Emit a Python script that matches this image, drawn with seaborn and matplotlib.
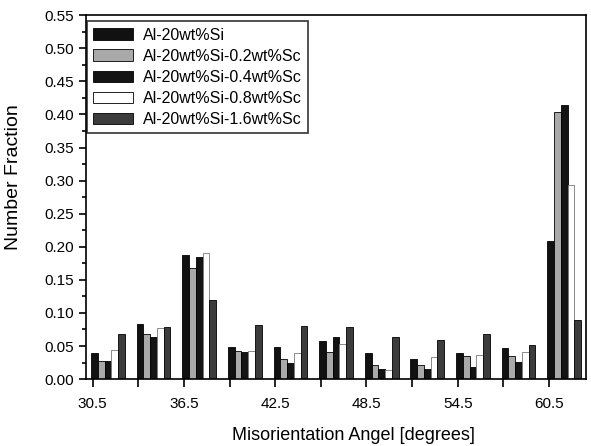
import pandas as pd
import matplotlib
matplotlib.use("Agg")
import matplotlib.pyplot as plt
import seaborn as sns
from matplotlib.ticker import MultipleLocator, FormatStrFormatter

sns.set_style("ticks", {"axes.edgecolor": "black", "xtick.color": "black",
                        "ytick.color": "black", "text.color": "black",
                        "axes.labelcolor": "black"})
plt.rcParams['font.family'] = ['Liberation Sans', 'DejaVu Sans']

# misorientation bins (degrees)
angles = [30.5, 33.5, 36.5, 39.5, 42.5, 45.5, 48.5, 51.5, 54.5, 57.5, 60.5]
alloys = ['Al-20wt%Si', 'Al-20wt%Si-0.2wt%Sc', 'Al-20wt%Si-0.4wt%Sc',
          'Al-20wt%Si-0.8wt%Sc', 'Al-20wt%Si-1.6wt%Sc']

si_00 = [0.040, 0.084, 0.188, 0.048, 0.048, 0.058, 0.039, 0.031, 0.040, 0.047, 0.208]
sc_02 = [0.028, 0.068, 0.168, 0.042, 0.031, 0.041, 0.021, 0.021, 0.035, 0.035, 0.403]
sc_04 = [0.028, 0.063, 0.184, 0.041, 0.024, 0.064, 0.015, 0.016, 0.019, 0.026, 0.414]
sc_08 = [0.044, 0.077, 0.190, 0.042, 0.040, 0.053, 0.014, 0.033, 0.036, 0.041, 0.294]
sc_16 = [0.068, 0.079, 0.120, 0.082, 0.080, 0.078, 0.064, 0.059, 0.068, 0.051, 0.089]

colors = ['#111111', '#a9a9a9', '#141414', '#ffffff', '#3c3c3c']

rows = []
for alloy, vals in zip(alloys, [si_00, sc_02, sc_04, sc_08, sc_16]):
    for a, v in zip(angles, vals):
        rows.append({'angle': a, 'frac': v, 'alloy': alloy})
df = pd.DataFrame(rows)
# groups are drawn starting at the bin tick (Origin-style)
df['pos'] = df['angle'] + 1.0

fig = plt.figure(figsize=(5.91, 4.46), dpi=100)
ax = fig.add_axes([0.1455, 0.150, 0.8460, 0.816])

sns.barplot(data=df, x='pos', y='frac', hue='alloy', hue_order=alloys,
            native_scale=True, palette=colors, width=0.74, dodge=True,
            edgecolor='black', linewidth=0.6, ax=ax)

# the white series has a grey outline in the reference
for bar in ax.containers[3]:
    bar.set_edgecolor('#777777')

ax.set_xlim(30.06, 62.93)
ax.set_ylim(0, 0.55)
ax.set_xticks(angles[::2])
ax.set_xticklabels([str(a) for a in angles[::2]])
ax.set_xticks(angles[1::2], minor=True)
ax.yaxis.set_major_locator(MultipleLocator(0.05))
ax.yaxis.set_minor_locator(MultipleLocator(0.025))
ax.yaxis.set_major_formatter(FormatStrFormatter('%.2f'))

ax.tick_params(axis='both', which='both', direction='out', width=1.2,
               labelsize=11, colors='black')
ax.tick_params(axis='x', which='both', length=6, pad=7)
ax.tick_params(axis='y', which='major', length=5)
ax.tick_params(axis='y', which='minor', length=3)
for s in ax.spines.values():
    s.set_linewidth(1.2)
    s.set_visible(True)

ax.set_xlabel('Misorientation Angel [degrees]', fontsize=13)
ax.set_ylabel('Number Fraction', fontsize=14)
ax.xaxis.set_label_coords(0.534, -0.132)
ax.yaxis.set_label_coords(-0.128, 0.555)

handles, labels = ax.get_legend_handles_labels()
leg = ax.legend(handles, labels, loc='upper left', bbox_to_anchor=(0.0, 0.985),
                fontsize=11.5, frameon=True, fancybox=False, edgecolor='black',
                handlelength=2.5, handleheight=0.75, labelspacing=0.38,
                borderaxespad=0.05, borderpad=0.4, handletextpad=0.6)
leg.get_frame().set_linewidth(1.2)

plt.savefig('out.png', dpi=100)
